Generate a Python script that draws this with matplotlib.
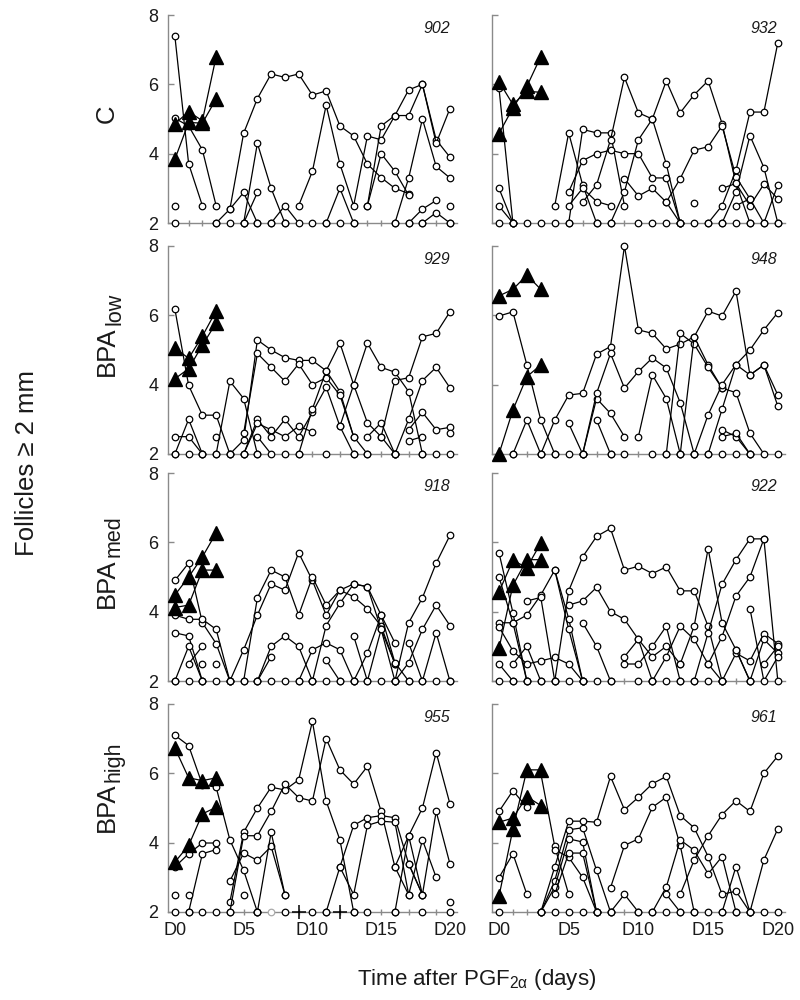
import matplotlib
matplotlib.use("Agg")
import matplotlib.pyplot as plt
from matplotlib.ticker import MultipleLocator

plt.rcParams['font.family'] = ['Liberation Sans', 'DejaVu Sans']
plt.rcParams['mathtext.default'] = 'regular'

# ---------------- data (day of first value, follicle sizes in mm) ----------------
panel_ids = ["902", "932", "929", "948", "918", "922", "955", "961"]
row_main = ["C", "BPA", "BPA", "BPA"]
row_sub = ["", "low", "med", "high"]
day_ticks = [0, 5, 10, 15, 20]
day_labels = ["D0", "D5", "D10", "D15", "D20"]
y_ticks = [2, 4, 6, 8]

tri_902 = [(0, [3.84, 4.9, 4.88, 5.58]), (0, [4.86, 5.21, 4.95, 6.8])]
circ_902 = [
    (0, [7.39, 3.71, 2.5]), (0, [5.02, 4.8, 4.11, 2.5]), (0, [2.5]),
    (3, [2.0, 2.4, 2.88, 2.0]),
    (4, [2.4, 4.59, 5.59, 6.3, 6.2, 6.3, 5.69, 5.81, 4.8, 4.51, 3.7, 3.31, 3.0, 2.85]),
    (5, [2.0, 4.3, 3.0, 2.0]), (5, [2.0, 2.88]), (7, [2.0, 2.5, 2.0]),
    (9, [2.5, 3.49, 5.4, 3.7, 2.5, 4.51, 4.4, 5.1, 5.84, 6.0, 4.4, 3.9]),
    (11, [2.0, 3.0, 2.0]),
    (14, [2.5, 4.8, 5.1, 5.1, 6.0, 4.3, 5.3]),
    (14, [2.5, 4.0, 3.49, 2.8]),
    (16, [2.0, 3.3, 5.0, 3.63, 3.3]),
    (17, [2.0, 2.4, 2.65]), (18, [2.0, 2.3, 2.0]), (20, [2.5]),
]
base_902 = [0, 3, 4, 5, 6, 7, 8, 10, 11, 12, 13, 16, 17, 18, 20]

tri_932 = [(0, [4.58, 5.32, 5.94, 6.8]), (0, [6.08, 5.42, 5.8, 5.77])]
circ_932 = [
    (0, [5.89, 2.0]), (0, [3.0, 2.0]), (0, [2.49, 2.0]),
    (4, [2.5, 4.6, 3.1, 2.0]),
    (5, [2.0, 4.7, 4.6, 4.6, 2.5]),
    (5, [2.9, 3.8, 4.0, 4.1, 4.0, 4.0, 3.3, 3.3, 2.0]),
    (5, [2.5, 3.0, 2.62, 2.5]),
    (6, [2.6, 3.1, 4.4, 6.2, 5.18, 5.0, 3.7, 2.0]),
    (8, [2.0, 2.9, 4.4, 5.0, 6.1, 5.18, 5.7, 6.1, 4.87, 3.14, 2.0]),
    (9, [3.28, 2.78, 3.0, 2.6, 2.0]),
    (12, [2.6, 3.28, 4.1, 4.2, 4.8, 3.33, 2.7]),
    (14, [2.59]),
    (15, [2.0, 2.5, 3.52, 5.2, 5.2, 7.2]),
    (16, [2.0, 2.9, 4.52, 3.6, 2.0]),
    (16, [3.0, 3.14, 2.5, 3.12, 2.7]),
    (17, [2.5, 2.7, 2.0, 3.1]),
]
base_932 = [0, 1, 2, 3, 4, 5, 7, 8, 10, 11, 12, 13, 14, 15, 16, 17, 18, 19, 20]

tri_929 = [(0, [4.17, 4.46, 5.14, 5.78]), (0, [5.06, 4.76, 5.4, 6.13])]
circ_929 = [
    (0, [6.18, 3.98, 3.12, 3.12, 2.0]), (0, [2.0, 3.0, 2.0]), (0, [2.5, 2.5, 2.0]),
    (3, [2.5]), (3, [2.0, 4.1, 3.6, 2.0]),
    (4, [2.0, 2.4, 5.29, 5.0, 4.78, 4.7, 4.7, 4.4, 3.8, 2.5]),
    (5, [2.6, 4.9, 4.5, 4.1, 4.6, 4.0, 4.2, 3.7, 2.5, 2.0]),
    (5, [2.0, 3.0, 2.5, 3.0, 2.5, 3.2, 3.93, 2.8, 2.0]),
    (5, [2.0, 2.88, 2.7, 2.5, 2.8, 2.64]),
    (6, [2.5, 2.0]),
    (9, [2.0, 3.3, 4.4, 5.2, 4.0, 2.9, 2.5, 2.0]),
    (12, [2.8, 4.0, 5.2, 4.5, 4.36, 3.8, 2.0]),
    (14, [2.5, 2.9, 2.0]),
    (15, [2.5, 4.12, 4.2, 5.38, 5.48, 6.1]),
    (16, [2.0, 3.0, 4.12, 4.5, 3.91]),
    (17, [2.7, 3.2, 2.7, 2.77]), (17, [2.38, 2.5]), (20, [2.6]),
]
base_929 = [0, 1, 2, 3, 4, 5, 6, 8, 9, 11, 13, 14, 16, 18, 19, 20]

tri_948 = [(0, [6.56, 6.75, 7.16, 6.75]), (0, [2.0, 3.27, 4.23, 4.57])]
circ_948 = [
    (0, [5.98, 6.1, 4.57, 2.98, 2.0]), (1, [2.0, 2.98, 2.0]),
    (3, [2.0, 2.98, 3.7, 3.75, 4.88, 5.1, 8.0, 5.58, 5.48, 5.03, 5.17, 5.38, 4.57, 3.9]),
    (5, [2.88, 2.0]), (6, [2.0, 3.6, 3.17, 2.5]),
    (6, [2.0, 3.75, 4.9, 3.9, 4.38, 4.77, 4.48, 3.48, 2.0]),
    (7, [2.98, 2.0]), (10, [2.5, 4.28, 3.6, 2.0]),
    (12, [2.0, 5.48, 5.17, 4.5, 3.9, 3.77, 2.6, 2.0]),
    (13, [2.0, 5.38, 6.12, 5.98, 6.7, 4.28, 4.57, 3.7]),
    (14, [2.0, 3.13, 4.0, 4.58, 5.0, 5.58, 6.08]),
    (15, [2.0, 3.29, 4.58, 4.28, 4.57, 3.38]),
    (16, [2.7, 2.5, 2.0]), (16, [2.5, 2.6, 2.0]),
]
base_948 = [1, 3, 4, 5, 6, 8, 9, 11, 12, 13, 14, 15, 16, 17, 18, 20]

tri_918 = [(0, [4.12, 4.19, 5.2, 5.2]), (0, [4.48, 5.0, 5.58, 6.27])]
circ_918 = [
    (0, [4.9, 5.4, 3.68, 3.08, 2.0]), (0, [3.9, 3.78, 3.78, 3.49, 2.0]),
    (0, [3.39, 3.3, 2.0]), (0, [2.0, 3.0, 2.0]), (1, [2.5, 3.0]), (2, [2.5]), (3, [2.5]),
    (4, [2.0, 2.9, 3.9, 4.8, 4.62, 5.7, 4.9, 3.9, 4.62, 4.8, 4.72, 3.9, 3.1]),
    (5, [2.0, 4.4, 5.2, 5.0, 3.9, 5.0, 4.19, 4.62, 4.43, 4.09, 3.58, 2.5]),
    (6, [2.0, 3.0, 3.3, 3.0, 2.0]), (6, [2.0, 2.7]),
    (9, [2.0, 2.9, 3.1, 2.9, 2.0]),
    (10, [2.0, 3.6, 4.24, 4.8, 4.72, 3.49, 2.5]),
    (11, [2.6, 2.0]), (13, [3.3, 2.0, 3.49, 2.0]),
    (13, [2.0, 2.8, 3.9, 2.53, 2.0]),
    (16, [2.0, 3.68, 4.4, 5.4, 6.2]),
    (16, [2.0, 2.53, 3.49, 4.19, 3.6]),
    (17, [3.1, 2.0, 3.39, 2.0]),
]
base_918 = list(range(0, 21))

tri_922 = [(0, [4.57, 5.48, 5.27, 5.98]), (0, [2.94, 4.76, 5.5, 5.5])]
circ_922 = [
    (0, [5.7, 3.97, 2.0]), (0, [5.0, 3.68, 2.0]),
    (0, [3.68, 3.68, 3.9, 4.48, 5.2, 3.8, 2.0]),
    (0, [3.56, 2.87, 2.49, 2.58, 2.68, 2.49, 2.0]),
    (0, [2.49, 2.0]), (1, [2.49, 3.0, 2.0]), (2, [4.31, 4.41, 2.0]),
    (4, [2.0, 4.6, 5.58, 6.17, 6.4, 5.2, 5.31, 5.1, 5.29, 4.6, 4.6, 3.58, 2.0]),
    (4, [5.2, 3.49, 2.0]),
    (5, [4.19, 4.31, 4.7, 4.0, 3.78, 3.2, 2.0]),
    (6, [3.68, 3.0, 2.0]),
    (9, [2.49, 2.49, 3.0, 3.58, 2.0]),
    (9, [2.7, 3.2, 2.7, 3.0, 2.49]),
    (11, [2.0, 2.7, 3.58, 3.2, 2.49, 2.0]),
    (13, [2.49, 3.58, 5.82, 3.68, 2.9, 2.0]),
    (14, [2.0, 3.39, 4.79, 5.5, 6.1, 6.1, 2.0]),
    (15, [2.49, 3.28, 4.45, 5.0, 6.1]),
    (16, [2.0, 2.8, 2.58, 3.37, 3.08]),
    (17, [2.9, 2.0, 3.2, 2.8]), (18, [4.09, 2.0, 2.7]), (19, [2.49, 3.0]),
]
base_922 = [0, 1, 2, 3, 4, 5, 6, 7, 8, 10, 11, 12, 13, 14, 15, 16, 18]

tri_955 = [(0, [6.73, 5.87, 5.79, 5.87]), (0, [3.44, 3.92, 4.83, 5.02])]
circ_955 = [
    (0, [7.1, 6.8, 5.67, 5.6, 4.08, 3.2, 2.0]),
    (0, [3.3, 3.68, 3.99, 3.99]), (1, [2.0, 3.68, 3.8]), (0, [2.5]), (1, [2.5]),
    (4, [2.29, 4.3, 5.0, 5.6, 5.52, 5.81, 7.5, 5.2, 4.08, 2.0]),
    (4, [2.0, 4.2, 4.2, 4.9, 5.69, 5.3, 5.2, 7.0, 6.1, 5.69, 6.2, 4.9, 3.3, 4.2, 2.5]),
    (4, [2.89, 3.7, 3.49, 3.89, 2.5]),
    (6, [2.0, 4.3, 2.5]), (5, [2.5]),
    (11, [2.0, 3.3, 4.5, 4.72, 4.78, 4.72, 3.39, 2.5]),
    (12, [3.3, 2.5, 4.5, 4.62, 4.59, 2.5]),
    (16, [2.0, 4.2, 5.0, 6.6, 5.12]),
    (16, [3.3, 2.5, 4.08, 3.0]),
    (17, [3.39, 2.5, 4.9, 3.39]), (20, [2.29]),
]
base_955 = [0, 1, 2, 3, 4, 6, 8, 10, 11, 13, 14, 16, 18, 20]
plus_955 = [9, 12]
grey_955 = [7]

tri_961 = [(0, [2.45, 4.39, 6.1, 6.1]), (0, [4.59, 4.71, 5.33, 5.07])]
circ_961 = [
    (0, [4.9, 5.5, 5.02]), (0, [2.99, 3.68, 2.51]),
    (3, [6.0, 3.89, 2.51]),
    (3, [2.0, 3.3, 4.62, 4.62, 4.59, 5.91, 4.95, 5.31, 5.7, 5.91, 4.78, 4.43, 3.6, 2.51, 2.6, 2.0]),
    (3, [2.0, 2.9, 4.37, 4.43, 3.2, 2.0]),
    (3, [2.0, 2.72, 4.11, 4.02, 2.0]),
    (4, [3.8, 3.58, 3.0, 2.0]),
    (4, [2.51, 3.7, 3.7, 2.0]),
    (8, [2.7, 3.92, 4.11, 5.02, 5.31, 3.92, 2.0]),
    (8, [2.0, 2.51, 2.0]),
    (11, [2.0, 2.72, 4.08, 3.78, 3.1, 3.6, 2.0]),
    (12, [2.51, 2.0]),
    (13, [2.51, 3.5, 4.2, 4.81, 5.21, 4.9, 6.0, 6.5]),
    (16, [2.0, 3.31, 2.0]),
    (18, [2.0, 3.5, 4.4]),
]
base_961 = [0, 3, 4, 5, 6, 7, 8, 10, 11, 12, 13, 14, 15, 16, 17, 18, 19, 20]

panels = {
    "902": (tri_902, circ_902, base_902), "932": (tri_932, circ_932, base_932),
    "929": (tri_929, circ_929, base_929), "948": (tri_948, circ_948, base_948),
    "918": (tri_918, circ_918, base_918), "922": (tri_922, circ_922, base_922),
    "955": (tri_955, circ_955, base_955), "961": (tri_961, circ_961, base_961),
}

# ---------------- figure ----------------
fig = plt.figure(figsize=(8, 10), dpi=100)
lefts = [0.210, 0.615]
widths = [0.361, 0.366]
bottoms = [0.777, 0.546, 0.319, 0.088]
height = 0.208
label_centers_px = [886.0, 665.0, 438.0, 213.0]   # from bottom, in pixels
GRAY = "#8a8a8a"
TXT = "#1a1a1a"

for i, pid in enumerate(panel_ids):
    r, c = divmod(i, 2)
    ax = fig.add_axes([lefts[c], bottoms[r], widths[c], height])
    tri, circ, base = panels[pid]
    ax.plot(base, [2.0] * len(base), linestyle="none", marker="o", ms=4.7,
            mfc="white", mec="black", mew=0.9, clip_on=False, zorder=3)
    for start, vals in circ:
        xs = list(range(start, start + len(vals)))
        ax.plot(xs, vals, "-", color="black", lw=0.9, marker="o", ms=4.7,
                mfc="white", mec="black", mew=0.9, clip_on=False, zorder=3)
    for start, vals in tri:
        xs = list(range(start, start + len(vals)))
        ax.plot(xs, vals, "-", color="black", lw=0.9, marker="^", ms=9.5,
                mfc="black", mec="black", clip_on=False, zorder=4)
    if pid == "955":
        ax.plot(plus_955, [2.0] * len(plus_955), linestyle="none", marker="+",
                ms=10, mew=1.1, color="black", clip_on=False, zorder=4)
        ax.plot(grey_955, [2.0] * len(grey_955), linestyle="none", marker="o",
                ms=4.7, mfc="white", mec="#aaaaaa", mew=0.9, clip_on=False, zorder=3)

    ax.set_xlim(-0.5, 20.5)
    ax.set_ylim(2, 8)
    for s in ("top", "right"):
        ax.spines[s].set_visible(False)
    for s in ("left", "bottom"):
        ax.spines[s].set_color(GRAY)
        ax.spines[s].set_linewidth(1.0)
    ax.set_yticks(y_ticks)
    ax.set_xticks(day_ticks)
    ax.xaxis.set_minor_locator(MultipleLocator(1))
    ax.tick_params(axis="both", which="both", color=GRAY, width=1.0,
                   labelsize=13, labelcolor=TXT)
    ax.tick_params(axis="y", direction="in", length=4, pad=7)
    ax.tick_params(axis="x", which="both", direction="inout", length=5, pad=5)
    if r == 3:
        ax.set_xticklabels(day_labels)
    else:
        ax.set_xticklabels([])
    if c == 1:
        ax.set_yticklabels([])
    ax.text(0.975, 0.935, pid, transform=ax.transAxes, ha="right", va="center",
            fontsize=11.5, style="italic", color=TXT)

# row labels (main text + large subscript), rotated
renderer = fig.canvas.get_renderer()
base_x_px = 114.0
for r in range(4):
    cy_px = label_centers_px[r]
    t1 = fig.text(0, 0, row_main[r], rotation=90, rotation_mode="anchor",
                  ha="left", va="baseline", fontsize=18.5, color=TXT,
                  transform=None)
    len1 = t1.get_window_extent(renderer).height
    len2 = 0.0
    t2 = None
    if row_sub[r]:
        t2 = fig.text(0, 0, row_sub[r], rotation=90, rotation_mode="anchor",
                      ha="left", va="baseline", fontsize=15.5, color=TXT,
                      transform=None)
        len2 = t2.get_window_extent(renderer).height
    y0 = cy_px - (len1 + len2) / 2.0
    t1.set_position((base_x_px, y0))
    if t2 is not None:
        t2.set_position((base_x_px + 6.0, y0 + len1 + 1.0))

fig.text(0.034, 0.537, "Follicles \u2265 2 mm", rotation=90, ha="center",
         va="center", fontsize=18.5, color=TXT)
fig.text(0.596, 0.021, "Time after PGF$_{2\\alpha}$ (days)", ha="center",
         va="center", fontsize=16, color=TXT)

fig.savefig("out.png", dpi=100)
